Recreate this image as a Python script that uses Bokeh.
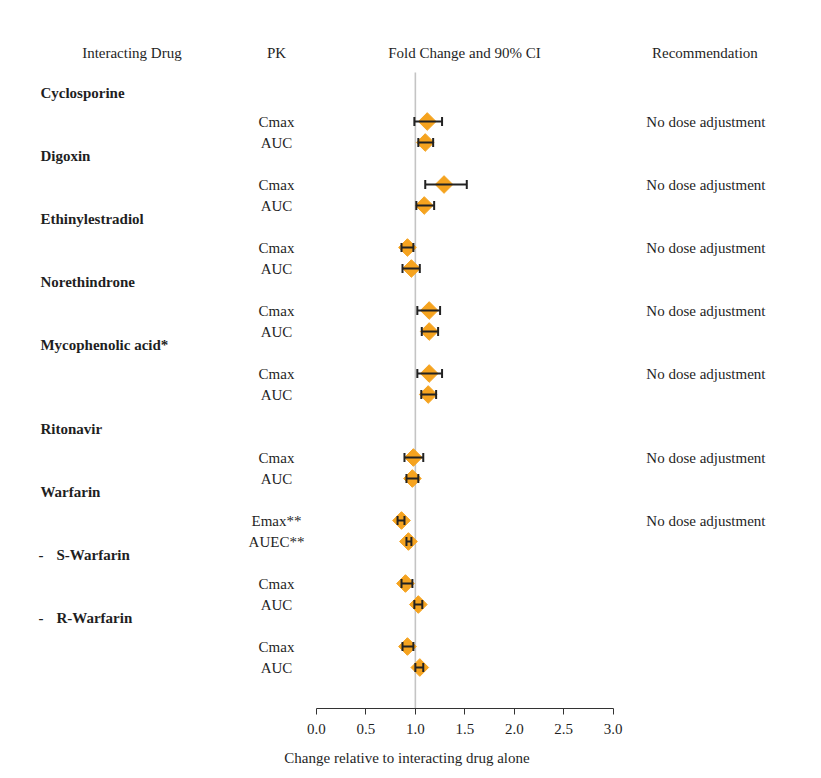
import numpy as np
from bokeh.plotting import figure
from bokeh.models import (ColumnDataSource, Whisker, TeeHead, Range1d, FixedTicker,
                          PrintfTickFormatter)
from bokeh.core.properties import value
from bokeh.embed import file_html
from bokeh.resources import INLINE

# ---------------- data ----------------
drugs = ["Cyclosporine", "Digoxin", "Ethinylestradiol", "Norethindrone",
         "Mycophenolic acid*", "Ritonavir", "Warfarin", "S-Warfarin", "R-Warfarin"]
drug_is_sub = [False, False, False, False, False, False, False, True, True]
pk_first = ["Cmax", "Cmax", "Cmax", "Cmax", "Cmax", "Cmax", "Emax**", "Cmax", "Cmax"]
pk_second = ["AUC", "AUC", "AUC", "AUC", "AUC", "AUC", "AUEC**", "AUC", "AUC"]
recommend = ["No dose adjustment"] * 7 + ["", ""]

first_ratio = [1.12, 1.29, 0.92, 1.14, 1.14, 0.98, 0.86, 0.90, 0.92]
first_lo = [0.99, 1.10, 0.86, 1.02, 1.02, 0.89, 0.82, 0.86, 0.87]
first_hi = [1.27, 1.52, 0.98, 1.25, 1.27, 1.08, 0.89, 0.97, 0.98]
second_ratio = [1.10, 1.09, 0.96, 1.14, 1.13, 0.97, 0.93, 1.03, 1.045]
second_lo = [1.03, 1.01, 0.87, 1.065, 1.06, 0.91, 0.91, 0.99, 1.00]
second_hi = [1.18, 1.19, 1.045, 1.23, 1.21, 1.03, 0.96, 1.07, 1.08]

x_ticks = [0.0, 0.5, 1.0, 1.5, 2.0, 2.5, 3.0]
headers = ["Interacting Drug", "PK", "Fold Change and 90% CI", "Recommendation"]
x_label = "Change relative to interacting drug alone"
reference_value = 1.0

# ---------------- layout ----------------
group_slot = [0, 3, 6, 9, 12, 16, 19, 22, 25]   # row index of first PK line of each group
name_offset = -1.38
header_row = -3.26
ref_top = -2.33
y_top, y_bottom = -5.381, 27.952
x_start, x_end = -3.114, 4.945
col_drug_x = -2.791
col_dash_x = -2.811
col_sub_x = -2.629
col_pk_x = -0.404
header_x = [-1.866, -0.404, 1.496, 3.928]
col_rec_x = 3.938

FONT = value("Liberation Serif")
TXT = "#1f1f1f"
ORANGE = "#F5A31F"

p = figure(frame_width=797, frame_height=700, output_backend="svg", toolbar_location=None,
           x_range=Range1d(x_start, x_end), y_range=Range1d(y_bottom, y_top),
           y_axis_location=None, min_border=0, min_border_left=8, min_border_top=8,
           outline_line_color=None,
           background_fill_color="white", border_fill_color="white")
p.xgrid.visible = False
p.ygrid.visible = False

ax = p.xaxis[0]
ax.bounds = (0, 3)
ax.ticker = FixedTicker(ticks=x_ticks)
ax.formatter = PrintfTickFormatter(format="%.1f")
ax.minor_tick_line_color = None
ax.major_tick_in = 0
ax.major_tick_out = 6
ax.axis_line_color = "#333333"
ax.major_tick_line_color = "#333333"
ax.major_label_text_font = "Liberation Serif"
ax.major_label_text_font_size = "15px"
ax.major_label_text_color = TXT
ax.major_label_standoff = 9
ax.axis_label = x_label
ax.axis_label_text_font = "Liberation Serif"
ax.axis_label_text_font_size = "15px"
ax.axis_label_text_font_style = "normal"
ax.axis_label_text_color = TXT
ax.axis_label_standoff = 13

# headers
p.text(x=header_x, y=[header_row] * 4, text=headers, text_font=FONT,
       text_font_size="15px", text_color=TXT, text_align="center", text_baseline="middle")

# drug names
name_y = [g + name_offset for g in group_slot]
main_idx = [i for i, s in enumerate(drug_is_sub) if not s]
sub_idx = [i for i, s in enumerate(drug_is_sub) if s]
p.text(x=[col_drug_x] * len(main_idx), y=[name_y[i] for i in main_idx],
       text=[drugs[i] for i in main_idx], text_font=FONT, text_font_size="15px",
       text_font_style="bold", text_color=TXT, text_align="left", text_baseline="middle")
p.text(x=[col_dash_x] * len(sub_idx), y=[name_y[i] for i in sub_idx],
       text=["-"] * len(sub_idx), text_font=FONT, text_font_size="15px",
       text_font_style="bold", text_color=TXT, text_align="left", text_baseline="middle")
p.text(x=[col_sub_x] * len(sub_idx), y=[name_y[i] for i in sub_idx],
       text=[drugs[i] for i in sub_idx], text_font=FONT, text_font_size="15px",
       text_font_style="bold", text_color=TXT, text_align="left", text_baseline="middle")

# PK rows
ys, pks, ratios, los, his = [], [], [], [], []
for g, a, b, r1, l1, h1, r2, l2, h2 in zip(group_slot, pk_first, pk_second, first_ratio,
                                           first_lo, first_hi, second_ratio, second_lo, second_hi):
    ys += [g, g + 1]
    pks += [a, b]
    ratios += [r1, r2]
    los += [l1, l2]
    his += [h1, h2]

p.text(x=[col_pk_x] * len(ys), y=ys, text=pks, text_font=FONT, text_font_size="15px",
       text_color=TXT, text_align="center", text_baseline="middle")

rec_y = [g for g, r in zip(group_slot, recommend) if r]
rec_t = [r for r in recommend if r]
p.text(x=[col_rec_x] * len(rec_y), y=rec_y, text=rec_t, text_font=FONT, text_font_size="15px",
       text_color=TXT, text_align="center", text_baseline="middle")

# reference line
p.segment(x0=[reference_value], y0=[ref_top], x1=[reference_value], y1=[y_bottom],
          line_color="#c4c4c4", line_width=1.6)

src = ColumnDataSource(dict(y=ys, r=ratios, lo=los, hi=his))
p.scatter(x="r", y="y", source=src, marker="square", angle=np.pi / 4, size=12.5,
          fill_color=ORANGE, line_color=ORANGE)
w = Whisker(base="y", lower="lo", upper="hi", dimension="width", source=src,
            line_color="#222222", line_width=2, level="overlay",
            lower_head=TeeHead(size=9, line_color="#222222", line_width=2),
            upper_head=TeeHead(size=9, line_color="#222222", line_width=2))
p.add_layout(w)

open("out.html", "w").write(file_html(p, INLINE))
